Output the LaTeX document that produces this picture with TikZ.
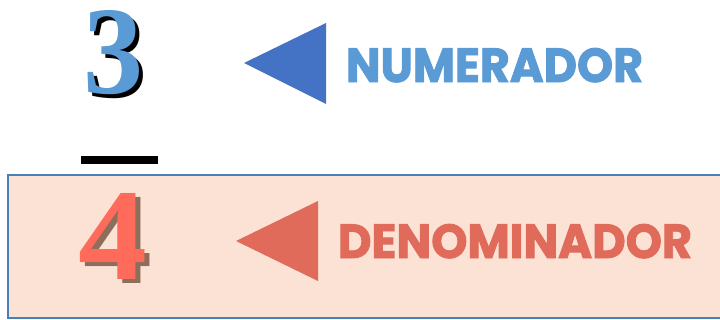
\documentclass[tikz,border=0pt]{standalone}
\usepackage{fontspec}
\setmainfont{Liberation Serif}
\newfontfamily\labelfont{Poppins}[BoldFeatures={FakeBold=2}]
\definecolor{numblue}{HTML}{5B9BD5}
\definecolor{triblue}{HTML}{4472C4}
\definecolor{denred}{HTML}{FF6B5B}
\definecolor{tred}{HTML}{E06B5B}
\definecolor{shadowbrown}{HTML}{8C6E5A}
\definecolor{boxfill}{HTML}{FBE2D5}
\definecolor{boxline}{HTML}{4A7EBB}
\begin{document}
\begin{tikzpicture}[x=1pt,y=-1pt,
  glyph/.style={inner sep=0pt,outer sep=0pt,anchor=north west}]
\useasboundingbox (0,0) rectangle (720,320);
% denominator box
\fill[boxfill] (8,175) rectangle (720,318);
\draw[boxline,line width=1.5pt] (720,175) -- (8,175) -- (8,318) -- (720,318);
% fraction bar
\fill[black] (81,156) rectangle (158,164);
% numerator digit with shadow
\node[glyph,text=black] (n3s) at (87,14) {\resizebox{60pt}{83pt}{\bfseries 3}};
\node[glyph,text=numblue] (n3) at (83,10) {\resizebox{60pt}{83pt}{\bfseries 3}};
% denominator digit with shadow
\node[glyph,text=shadowbrown] (d4s) at (83,197) {\resizebox{69pt}{86pt}{\bfseries 4}};
\node[glyph,text=denred] (d4) at (78,193) {\resizebox{69pt}{86pt}{\bfseries 4}};
% triangles
\fill[triblue] (244,63) -- (326,23) -- (326,104) -- cycle;
\fill[tred] (236,241) -- (318,201) -- (318,281) -- cycle;
% labels
\node[glyph,text=numblue] (num) at (346,48) {\resizebox{297pt}{34pt}{\labelfont\bfseries NUMERADOR}};
\node[glyph,text=tred] (den) at (338,224) {\resizebox{354pt}{34pt}{\labelfont\bfseries DENOMINADOR}};
\end{tikzpicture}
\end{document}
